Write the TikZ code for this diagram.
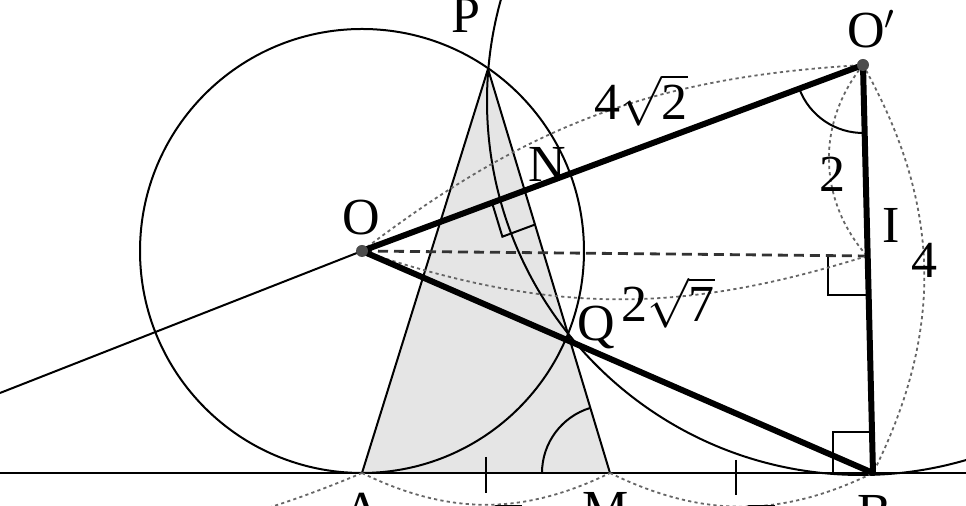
\documentclass[tikz,border=0pt]{standalone}
\usepackage{fontspec}
\setmainfont{Liberation Serif}
\usetikzlibrary{calc}

\begin{document}
\begin{tikzpicture}[x=0.5pt, y=0.5pt,
        thinline/.style={black, line width=1pt},
        boldline/.style={black, line width=3pt, line cap=round},
        dimarc/.style={black!60, line width=0.9pt, dash pattern=on 1.6pt off 1.6pt},
        lbl/.style={font=\fontsize{26}{30}\selectfont, inner sep=0pt, anchor=base}]
        \useasboundingbox (0,0) rectangle (966,506);
        \clip (0,0) rectangle (966,506);
        % 點
        \coordinate (O) at (362,255);
        \coordinate (Op) at (863,441);
        \coordinate (A) at (362,33);
        \coordinate (M) at (610,33);
        \coordinate (B) at (873,33);
        \coordinate (P) at (488,437);
        \coordinate (Q) at (568,173);
        \coordinate (N) at (525,315);
        \coordinate (I) at (867,250);
        \coordinate (L) at (0,113);
        \coordinate (Lg) at (0,33);
        \coordinate (Rg) at (966,33);
        \coordinate (Far) at (-236,33);
        % 灰色三角形 PAM
        \fill[black!10] (P) -- (A) -- (M) -- cycle;
        % 兩個圓
        \draw[thinline] (O) circle[radius=222];
        \draw[thinline] (861,405) circle[radius=374];
        % 切線與直線
        \draw[thinline] (Lg) -- (Rg);
        \draw[thinline] (L) -- (O);
        \draw[thinline] (P) -- (A);
        \draw[thinline] (P) -- (M);
        % 直角記號
        \draw[thinline] (492.2,302.8) -- (502.4,269.3) -- (535.2,281.5);
        \draw[thinline] (828,250) -- (828,211) -- (868,211);
        \draw[thinline] (833,33) -- (833,74) -- (872,74);
        % 角的圓弧
        \draw[thinline] ([shift={(200.4:68)}]Op) arc[start angle=200.4, end angle=271.4, radius=68];
        \draw[thinline] ([shift={(106.8:68)}]M) arc[start angle=106.8, end angle=180, radius=68];
        % 等長記號
        \draw[thinline] (486,49) -- (486,13);
        \draw[thinline] (736,46) -- (736,11);
        % 虛線 OI
        \draw[black!80, line width=1.4pt, dash pattern=on 5pt off 3pt] (O) -- (I);
        % 長度的點線弧
        \draw[dimarc] (O) to[bend left=17] (Op);
        \draw[dimarc] (O) to[bend right=18] (I);
        \draw[dimarc] (Op) to[bend right=40] (I);
        \draw[dimarc] (Op) to[bend left=28] (B);
        \draw[dimarc] (Far) to[bend right=23] (A);
        \draw[dimarc] (A) to[bend right=26] (M);
        \draw[dimarc] (M) to[bend right=26] (B);
        % 粗線
        \draw[boldline] (O) -- (Op);
        \draw[boldline] (O) -- (B);
        \draw[boldline] (Op) -- (B);
        % 圓心
        \fill[black!70] (O) circle[radius=6];
        \fill[black!70] (Op) circle[radius=6];
        % 標籤
        \node[lbl] (lP) at (466,473) {P};
        \node[lbl] (lO) at (361,271) {O};
        \node[lbl, anchor=base west] (lOp) at (847,458) {O$'$};
        \node[lbl] (lN) at (547,324) {N};
        \node[lbl] (lI) at (891,263) {I};
        \node[lbl] (lQ) at (596,165) {Q};
        \node[lbl] (lOI) at (832,314) {2};
        \node[lbl] (lOB) at (924,228) {4};
        \node[lbl] (lOOp) at (641,386) {4$\sqrt{\mbox{2}}$};
        \node[lbl] (lOIlen) at (668,184) {2$\sqrt{\mbox{7}}$};
        \node[lbl] (lA) at (362,-22) {A};
        \node[lbl] (lM) at (606,-21) {M};
        \node[lbl] (lB) at (875,-24) {B};
        \node[lbl, anchor=north] (lAM) at (488,3) {$\sqrt{\mbox{7}}$};
        \node[lbl, anchor=north] (lMB) at (741,3) {$\sqrt{\mbox{7}}$};
    \end{tikzpicture}
\end{document}
